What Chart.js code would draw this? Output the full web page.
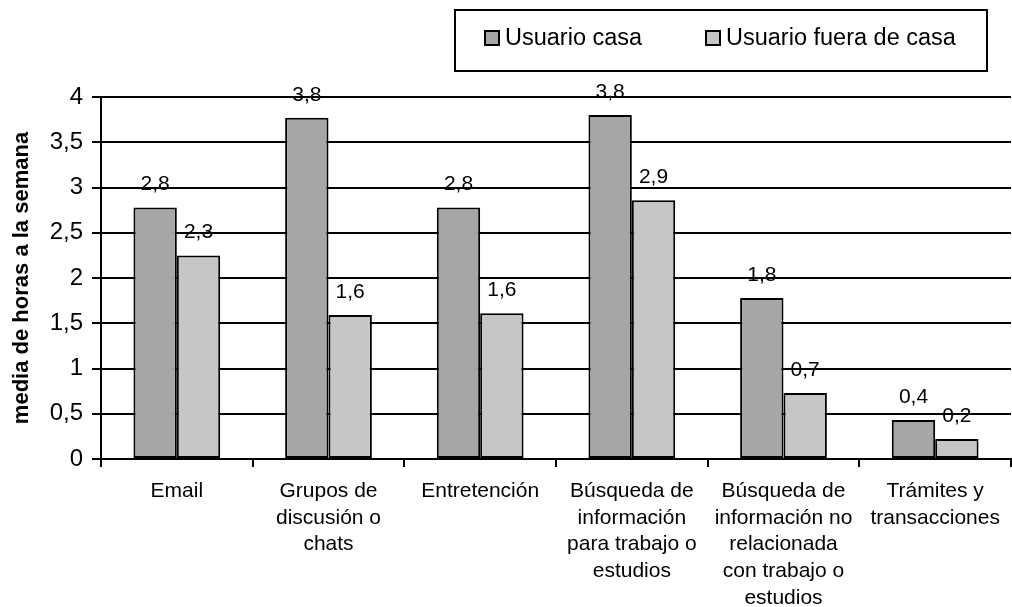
<!DOCTYPE html>
<html>
<head>
<meta charset="utf-8">
<script src="https://cdn.jsdelivr.net/npm/chart.js@4.4.1/dist/chart.umd.min.js"></script>
<style>
html,body{margin:0;padding:0;background:#fff;}
#wrap{width:1012px;height:607px;position:relative;}
</style>
</head>
<body>
<div id="wrap"><canvas id="c" width="1012" height="607"></canvas></div>
<script>
const categories = [
  "Email",
  ["Grupos de", "discusión o", "chats"],
  "Entretención",
  ["Búsqueda de", "información", "para trabajo o", "estudios"],
  ["Búsqueda de", "información no", "relacionada", "con trabajo o", "estudios"],
  ["Trámites y", "transacciones"]
];
const seriesNames = ["Usuario casa", "Usuario fuera de casa"];
const usuarioCasa = [2.78, 3.77, 2.78, 3.80, 1.78, 0.43];
const usuarioFuera = [2.25, 1.59, 1.61, 2.86, 0.73, 0.22];
const yTicks = [0, 0.5, 1, 1.5, 2, 2.5, 3, 3.5, 4];
const yTitle = "media de horas a la semana";

const FONT = "'Liberation Sans', Arial, sans-serif";
const fmt = v => v.toString().replace('.', ',');

const dataLabels = {
  id: 'dataLabels',
  afterDatasetsDraw(chart) {
    const ctx = chart.ctx;
    ctx.save();
    ctx.font = "21px " + FONT;
    ctx.fillStyle = "#000";
    ctx.textAlign = "center";
    ctx.textBaseline = "middle";
    chart.data.datasets.forEach((ds, i) => {
      const meta = chart.getDatasetMeta(i);
      meta.data.forEach((el, j) => {
        ctx.fillText(ds.data[j].toFixed(1).replace('.', ','), el.x, el.y - 23);
      });
    });
    ctx.restore();
  }
};

const boxLegend = {
  id: 'boxLegend',
  afterDraw(chart) {
    const ctx = chart.ctx;
    ctx.save();
    ctx.lineWidth = 2;
    ctx.strokeStyle = "#000";
    ctx.strokeRect(455, 10, 532, 61);
    ctx.font = "23.5px " + FONT;
    ctx.textBaseline = "middle";
    ctx.textAlign = "left";
    const xs = [485, 706];
    chart.data.datasets.forEach((ds, i) => {
      const x = xs[i];
      ctx.fillStyle = ds.backgroundColor;
      ctx.fillRect(x, 31, 14, 14);
      ctx.lineWidth = 2;
      ctx.strokeRect(x, 31, 14, 14);
      ctx.fillStyle = "#000";
      ctx.fillText(ds.label, x + 20, 39);
    });
    ctx.restore();
  }
};

new Chart(document.getElementById('c'), {
  type: 'bar',
  data: {
    labels: categories,
    datasets: [
      { label: seriesNames[0], data: usuarioCasa, backgroundColor: '#a6a6a6', borderColor: '#000', borderWidth: 2, borderSkipped: false },
      { label: seriesNames[1], data: usuarioFuera, backgroundColor: '#c6c6c6', borderColor: '#000', borderWidth: 2, borderSkipped: false }
    ]
  },
  options: {
    responsive: false,
    animation: false,
    events: [],
    layout: { padding: { top: 97, left: 0, right: 1, bottom: 0 } },
    plugins: { legend: { display: false }, tooltip: { enabled: false } },
    datasets: { bar: { categoryPercentage: 0.572, barPercentage: 1 } },
    scales: {
      x: {
        grid: { offset: true, drawOnChartArea: false, color: '#000', lineWidth: 2, tickLength: 8 },
        border: { display: true, color: '#000', width: 2 },
        ticks: { color: '#000', font: { family: FONT, size: 21, lineHeight: 1.27 }, maxRotation: 0, autoSkip: false, padding: 11 },
        afterFit(scale) { scale.height = 148; }
      },
      y: {
        min: 0, max: 4,
        afterBuildTicks(scale) { scale.ticks = yTicks.map(v => ({ value: v })); },
        grid: { color: '#000', lineWidth: 2, tickLength: 9 },
        border: { display: true, color: '#000', width: 2 },
        ticks: { color: '#000', font: { family: FONT, size: 24 }, padding: 9, callback: v => fmt(v) },
        title: { display: true, text: yTitle, color: '#000', font: { family: FONT, size: 22, weight: 'bold' }, padding: { top: 9, bottom: 0 } },
        afterFit(scale) { scale.width = 101; }
      }
    }
  },
  plugins: [dataLabels, boxLegend]
});
</script>
</body>
</html>
